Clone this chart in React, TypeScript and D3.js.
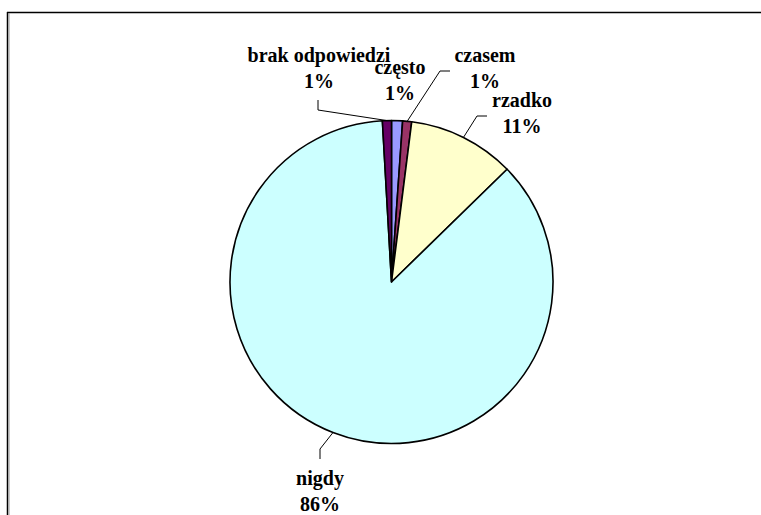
import { useMemo } from 'react'
import * as d3 from 'd3'

const W = 761
const H = 515

// categories in clockwise order from 12 o'clock
const categories = ['często', 'czasem', 'rzadko', 'nigdy', 'brak odpowiedzi']
const shares = [1.1, 0.9, 10.7, 86.4, 0.9]
const colors = ['#9999FF', '#993366', '#FFFFCC', '#CCFFFF', '#660066']

// label placement, center x / first baseline y
const labelPos: [number, number][] = [
  [400, 74],
  [485, 62],
  [522, 107],
  [320, 485],
  [319, 62],
]
// leader elbows: [elbow, end] or null
const leaders: ([number, number][] | null)[] = [
  null,
  [[440, 71], [450, 71]],
  [[477, 116], [487, 116]],
  [[320, 449], [320, 459]],
  [[318, 110], [318, 100]],
]

const cx = 391.5
const cy = 282
const R = 161.5
const FONT = 'Liberation Serif, Times New Roman, DejaVu Serif, serif'

export default function App() {
  const arcs = useMemo(() => {
    const pie = d3.pie<number>().sort(null).value((d) => d)
    return pie(shares)
  }, [])
  const arc = d3.arc<d3.PieArcDatum<number>>().innerRadius(0).outerRadius(R)
  const total = d3.sum(shares)
  const line = d3.line()

  return (
    <svg width={W} height={H} style={{ position: 'absolute', left: 0, top: 0, background: '#fff' }}>
      <rect width={W} height={H} fill="#fff" />
      {/* chart frame, clipped like the original */}
      <line x1={7} y1={12.5} x2={W} y2={12.5} stroke="#000" strokeWidth={1.5} />
      <line x1={7.5} y1={12} x2={7.5} y2={H} stroke="#000" strokeWidth={1.5} />
      <line x1={9} y1={13} x2={9} y2={H} stroke="#999" strokeWidth={1} />

      <g transform={`translate(${cx},${cy})`}>
        {arcs.map((a, i) => (
          <path key={i} d={arc(a) ?? ''} fill={colors[i]} stroke="#000" strokeWidth={1.6} strokeLinejoin="round" />
        ))}
      </g>

      {arcs.map((a, i) => {
        const pts = leaders[i]
        if (!pts) return null
        const mid = (a.startAngle + a.endAngle) / 2
        const start: [number, number] = [cx + R * Math.sin(mid), cy - R * Math.cos(mid)]
        return <path key={'l' + i} d={line([start, ...pts]) ?? ''} fill="none" stroke="#000" strokeWidth={1} />
      })}

      {categories.map((c, i) => {
        const [x, y] = labelPos[i]
        const pct = d3.format('.0f')((shares[i] / total) * 100) + '%'
        return (
          <text
            key={'t' + i}
            x={x}
            y={y}
            textAnchor="middle"
            fill="#000"
            style={{ fontFamily: FONT, fontSize: '20px', fontWeight: 'bold' }}
          >
            <tspan x={x}>{c}</tspan>
            <tspan x={x} dy={26}>{pct}</tspan>
          </text>
        )
      })}
    </svg>
  )
}
